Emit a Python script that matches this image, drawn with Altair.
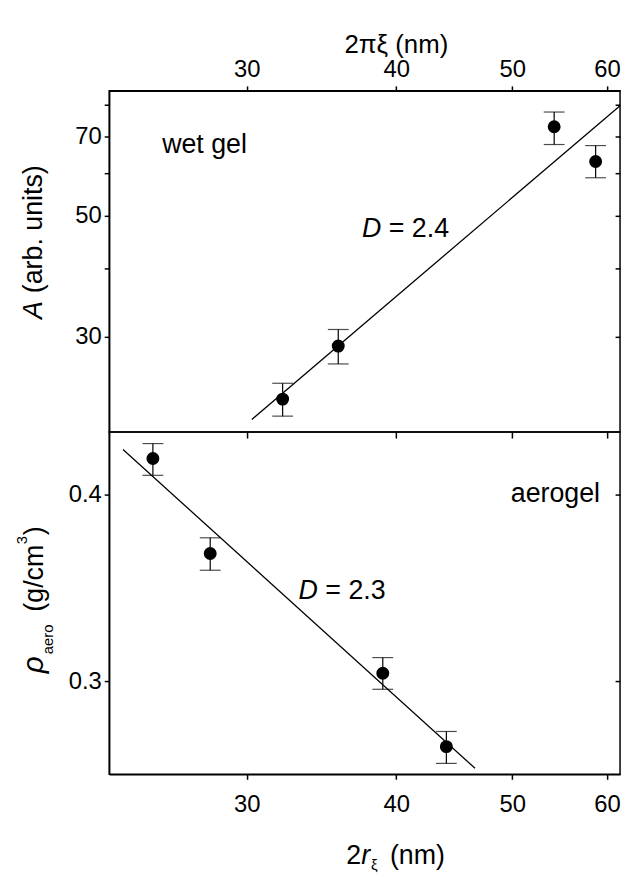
import altair as alt
import pandas as pd

# ---------------- data ----------------
# upper panel: wet gel, x = 2*pi*xi (nm), y = A (arb. units)
x_wet = [32.15, 35.78, 54.2, 58.7]
A_wet = [23.0, 28.8, 73.0, 63.0]
A_lo = [21.4, 26.7, 67.7, 58.8]
A_hi = [24.6, 30.9, 77.7, 67.4]
fit_wet_x = [30.3, 61.52]
fit_wet_y = [21.1, 79.8]

# lower panel: aerogel, x = 2 r_xi (nm), y = rho_aero (g/cm3)
x_aero = [25.05, 27.97, 38.98, 44.05]
rho = [0.4225, 0.3651, 0.3037, 0.2713]
rho_lo = [0.4117, 0.3558, 0.2963, 0.2644]
rho_hi = [0.4323, 0.3740, 0.3111, 0.2777]
fit_aero_x = [23.65, 46.55]
fit_aero_y = [0.4284, 0.2624]

x_ticks = [30, 40, 50, 60]
A_ticks = [30, 40, 50, 60, 70, 80]
rho_ticks = [0.3, 0.4]

X_DOMAIN = [23.03, 61.52]
A_DOMAIN = [20.0, 85.0]
RHO_DOMAIN = [0.26, 0.44]

FONT = "Liberation Sans"
W, H1, H2 = 515, 344, 345

xs = alt.Scale(type="log", domain=X_DOMAIN, nice=False)
ys_top = alt.Scale(type="log", domain=A_DOMAIN, nice=False)
ys_bot = alt.Scale(type="log", domain=RHO_DOMAIN, nice=False)

AX = dict(domainColor="black", domainWidth=1.5, tickColor="black", tickWidth=1.5,
          tickSize=5, labelFont=FONT, labelFontSize=24, labelColor="black",
          grid=False, labelOverlap=False, labelFlush=False)


def part(s, x, y, size, italic=False, angle=0):
    return alt.Chart(pd.DataFrame({"t": [s]})).mark_text(
        align="left", baseline="alphabetic", font=FONT, fontSize=size,
        fontStyle="italic" if italic else "normal", angle=angle, color="black"
    ).encode(text="t:N", x=alt.value(x), y=alt.value(y))


def note(s, xv, yv, ysc, size=27, italic=False, dx=0):
    return alt.Chart(pd.DataFrame({"t": [s], "x": [xv], "y": [yv]})).mark_text(
        align="left", baseline="alphabetic", font=FONT, fontSize=size,
        fontStyle="italic" if italic else "normal", color="black", dx=dx
    ).encode(text="t:N",
             x=alt.X("x:Q", scale=xs, axis=None),
             y=alt.Y("y:Q", scale=ysc, axis=None))


def panel(df, fit, ysc, yvals, yfmt, ylabexpr, xaxis, extra_x_axis, extra_y_axis):
    pts = alt.Chart(df).mark_circle(size=170, color="black", opacity=1).encode(
        x=alt.X("x:Q", scale=xs, axis=xaxis),
        y=alt.Y("y:Q", scale=ysc, axis=alt.Axis(orient="left", values=yvals, format=yfmt,
                                                labelExpr=ylabexpr, title=None,
                                                labelPadding=3, **AX)),
    )
    bars = alt.Chart(df).mark_rule(color="black", strokeWidth=1.2).encode(
        x=alt.X("x:Q", scale=xs, axis=None),
        y=alt.Y("lo:Q", scale=ysc, axis=None),
        y2="hi:Q",
    )
    cap_lo = alt.Chart(df).mark_tick(orient="horizontal", size=21, thickness=1.2, color="black").encode(
        x=alt.X("x:Q", scale=xs, axis=None),
        y=alt.Y("lo:Q", scale=ysc, axis=None),
    )
    cap_hi = alt.Chart(df).mark_tick(orient="horizontal", size=21, thickness=1.2, color="black").encode(
        x=alt.X("x:Q", scale=xs, axis=None),
        y=alt.Y("hi:Q", scale=ysc, axis=None),
    )
    line = alt.Chart(fit).mark_line(color="black", strokeWidth=1.3).encode(
        x=alt.X("x:Q", scale=xs, axis=None),
        y=alt.Y("y:Q", scale=ysc, axis=None),
    )
    extra = alt.Chart(df).mark_point(opacity=0).encode(
        x=alt.X("x:Q", scale=xs, axis=extra_x_axis),
        y=alt.Y("y:Q", scale=ysc, axis=extra_y_axis),
    )
    return [line, bars, cap_lo, cap_hi, pts, extra]


wet = pd.DataFrame({"x": x_wet, "y": A_wet, "lo": A_lo, "hi": A_hi})
wet_fit = pd.DataFrame({"x": fit_wet_x, "y": fit_wet_y})
aero = pd.DataFrame({"x": x_aero, "y": rho, "lo": rho_lo, "hi": rho_hi})
aero_fit = pd.DataFrame({"x": fit_aero_x, "y": fit_aero_y})

top_x_axis = alt.Axis(orient="top", values=x_ticks, format="d", title="2πξ (nm)",
                      titleFont=FONT, titleFontSize=26, titleFontWeight="normal",
                      titleColor="black", titleX=289, titleY=-39, titleAlign="center",
                      titleBaseline="alphabetic", labelPadding=4, **AX)
top_bottom_ticks = alt.Axis(orient="bottom", values=x_ticks, labels=False, domain=False,
                            title=None, tickColor="black", tickWidth=1.5, tickSize=6, grid=False)
top_right_ticks = alt.Axis(orient="right", values=A_ticks, labels=False, domain=False,
                           title=None, tickColor="black", tickWidth=1.5, tickSize=5,
                           offset=-5, grid=False)

top_layers = panel(
    wet, wet_fit, ys_top, A_ticks, "d",
    "datum.value == 30 || datum.value == 50 || datum.value == 70 ? datum.label : ''",
    top_x_axis, top_bottom_ticks, top_right_ticks)
top_layers += [
    note("wet gel", 25.5, 65.2, ys_top),
    note("D", 37.45, 45.7, ys_top, italic=True),
    note("= 2.4", 37.45, 45.7, ys_top, dx=27),
    part("A", -68, 230, 27, italic=True, angle=270),
    part("(arb. units)", -68, 204, 27, angle=270),
]
top = alt.layer(*top_layers).resolve_axis(x="independent", y="independent").properties(
    width=W, height=H1)

bot_x_axis = alt.Axis(orient="bottom", values=x_ticks, format="d", title=None,
                      labelPadding=13, **AX)
bot_right_ticks = alt.Axis(orient="right", values=rho_ticks, labels=False, domain=False,
                           title=None, tickColor="black", tickWidth=1.5, tickSize=5,
                           offset=-5, grid=False)

bot_layers = panel(aero, aero_fit, ys_bot, rho_ticks, ".1f", "datum.label",
                   bot_x_axis, None, bot_right_ticks)
bot_layers += [
    note("aerogel", 49.86, 0.3952, ys_bot),
    note("D", 33.15, 0.3404, ys_bot, italic=True),
    note("= 2.3", 33.15, 0.3404, ys_bot, dx=27),
    part("ρ", -67, 243, 30, italic=True, angle=270),
    part("aero", -57, 224, 15, angle=270),
    part("(g/cm", -67, 181, 27, angle=270),
    part("3", -83, 113, 15, angle=270),
    part(")", -67, 104, 27, angle=270),
    part("2", 239, 435, 27),
    part("r", 254, 435, 27, italic=True),
    part("ξ", 264, 441, 15),
    part("(nm)", 283, 435, 27),
]
bot = alt.layer(*bot_layers).resolve_axis(x="independent", y="independent").properties(
    width=W, height=H2)

chart = alt.vconcat(top, bot, spacing=0, bounds="flush").configure_view(
    stroke="black", strokeWidth=1.5
).properties(
    padding={"left": 6, "top": 19, "right": 0, "bottom": 0},
    background="white",
)

chart.save("out.html", embed_options={"renderer": "svg", "actions": False})
